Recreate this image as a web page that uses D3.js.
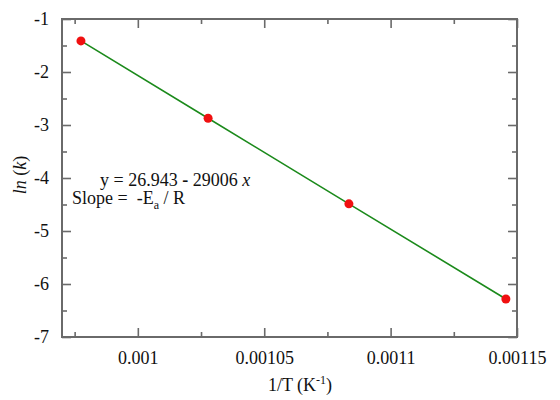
<!DOCTYPE html>
<html>
<head>
<meta charset="utf-8">
<script src="https://cdn.jsdelivr.net/npm/d3@7"></script>
</head>
<body style="margin:0">
<svg id="chart" width="560" height="400"></svg>
<script>
// Data
const invT = [0.0009775, 0.0010278, 0.0010835, 0.0011456];
const lnK = [-1.413, -2.872, -4.487, -6.283];
const xMajorTicks = [0.001, 0.00105, 0.0011, 0.00115];
const xTickLabels = ["0.001", "0.00105", "0.0011", "0.00115"];
const xMinorTicks = [0.000975, 0.001025, 0.001075, 0.001125];
const yMajorTicks = [-7, -6, -5, -4, -3, -2, -1];
const yTickLabels = ["-7", "-6", "-5", "-4", "-3", "-2", "-1"];
const yMinorTicks = [-6.5, -5.5, -4.5, -3.5, -2.5, -1.5];
const xDomain = [0.00097, 0.00115];
const yDomain = [-7, -1];

const svg = d3.select("#chart");
const L = 62, R = 517, T = 19, B = 337;
const x = d3.scaleLinear().domain(xDomain).range([L, R]);
const y = d3.scaleLinear().domain(yDomain).range([B, T]);

const axisColor = "#6a6a6a";
const FS = "18px";
const FAM = '"Liberation Serif", "Times New Roman", serif';

function setFont(sel) {
  return sel.attr("font-family", null).style("font-family", FAM).style("font-size", FS);
}

function styleAxis(g) {
  g.select(".domain").remove();
  g.selectAll(".tick line").attr("stroke", axisColor).attr("stroke-width", 1.6);
  g.attr("font-family", null).attr("font-size", null);
  setFont(g.selectAll("text")).attr("fill", "#111");
}

// Major ticks
svg.append("g").attr("transform", `translate(0,${B})`)
  .call(d3.axisBottom(x).tickValues(xMajorTicks).tickSize(-9).tickPadding(14)
    .tickFormat((d, i) => xTickLabels[i]))
  .call(styleAxis);
svg.append("g").attr("transform", `translate(0,${T})`)
  .call(d3.axisTop(x).tickValues(xMajorTicks).tickSize(-9).tickFormat(""))
  .call(styleAxis);
svg.append("g").attr("transform", `translate(${L},0)`)
  .call(d3.axisLeft(y).tickValues(yMajorTicks).tickSize(-9).tickPadding(13)
    .tickFormat((d, i) => yTickLabels[i]))
  .call(styleAxis);
svg.append("g").attr("transform", `translate(${R},0)`)
  .call(d3.axisRight(y).tickValues(yMajorTicks).tickSize(-9).tickFormat(""))
  .call(styleAxis);

// Minor ticks
svg.append("g").attr("transform", `translate(0,${B})`)
  .call(d3.axisBottom(x).tickValues(xMinorTicks).tickSize(-5).tickFormat(""))
  .call(styleAxis);
svg.append("g").attr("transform", `translate(0,${T})`)
  .call(d3.axisTop(x).tickValues(xMinorTicks).tickSize(-5).tickFormat(""))
  .call(styleAxis);
svg.append("g").attr("transform", `translate(${L},0)`)
  .call(d3.axisLeft(y).tickValues(yMinorTicks).tickSize(-5).tickFormat(""))
  .call(styleAxis);
svg.append("g").attr("transform", `translate(${R},0)`)
  .call(d3.axisRight(y).tickValues(yMinorTicks).tickSize(-5).tickFormat(""))
  .call(styleAxis);

// Frame
svg.append("rect")
  .attr("x", L).attr("y", T).attr("width", R - L).attr("height", B - T)
  .attr("fill", "none").attr("stroke", axisColor).attr("stroke-width", 2);

// Line
const pts = invT.map((v, i) => [v, lnK[i]]);
svg.append("path")
  .datum(pts)
  .attr("fill", "none")
  .attr("stroke", "#1b8a1b")
  .attr("stroke-width", 1.6)
  .attr("d", d3.line().x(d => x(d[0])).y(d => y(d[1])));

// Points
svg.append("g").selectAll("circle")
  .data(pts).join("circle")
  .attr("cx", d => x(d[0])).attr("cy", d => y(d[1]))
  .attr("r", 4.5).attr("fill", "#f01010");

// X axis title
const xt = setFont(svg.append("text")).attr("fill", "#111")
  .attr("x", 300).attr("y", 391)
  .attr("text-anchor", "middle");
xt.append("tspan").text("1/T (K");
xt.append("tspan").attr("dy", -7).style("font-size", "12px").text("-1");
xt.append("tspan").attr("dy", 7).text(")");

// Y axis title
const yt = setFont(svg.append("text")).attr("fill", "#111")
  .attr("transform", "translate(26,175) rotate(-90)")
  .attr("text-anchor", "middle");
yt.append("tspan").style("font-style", "italic").text("ln");
yt.append("tspan").text(" (");
yt.append("tspan").style("font-style", "italic").text("k");
yt.append("tspan").text(")");

// Annotations
const a1 = setFont(svg.append("text")).attr("fill", "#111").attr("x", 100).attr("y", 186);
a1.append("tspan").text("y = 26.943 ");
a1.append("tspan").style("font-weight", "bold").text("-");
a1.append("tspan").text(" 29006 ");
a1.append("tspan").style("font-style", "italic").text("x");

const a2 = setFont(svg.append("text")).attr("fill", "#111").attr("x", 72).attr("y", 204);
a2.append("tspan").text("Slope =");
a2.append("tspan").attr("dx", 9).text("-E");
a2.append("tspan").attr("dy", 5).style("font-size", "12px").text("a");
a2.append("tspan").attr("dy", -5).text(" / R");
</script>
</body>
</html>
